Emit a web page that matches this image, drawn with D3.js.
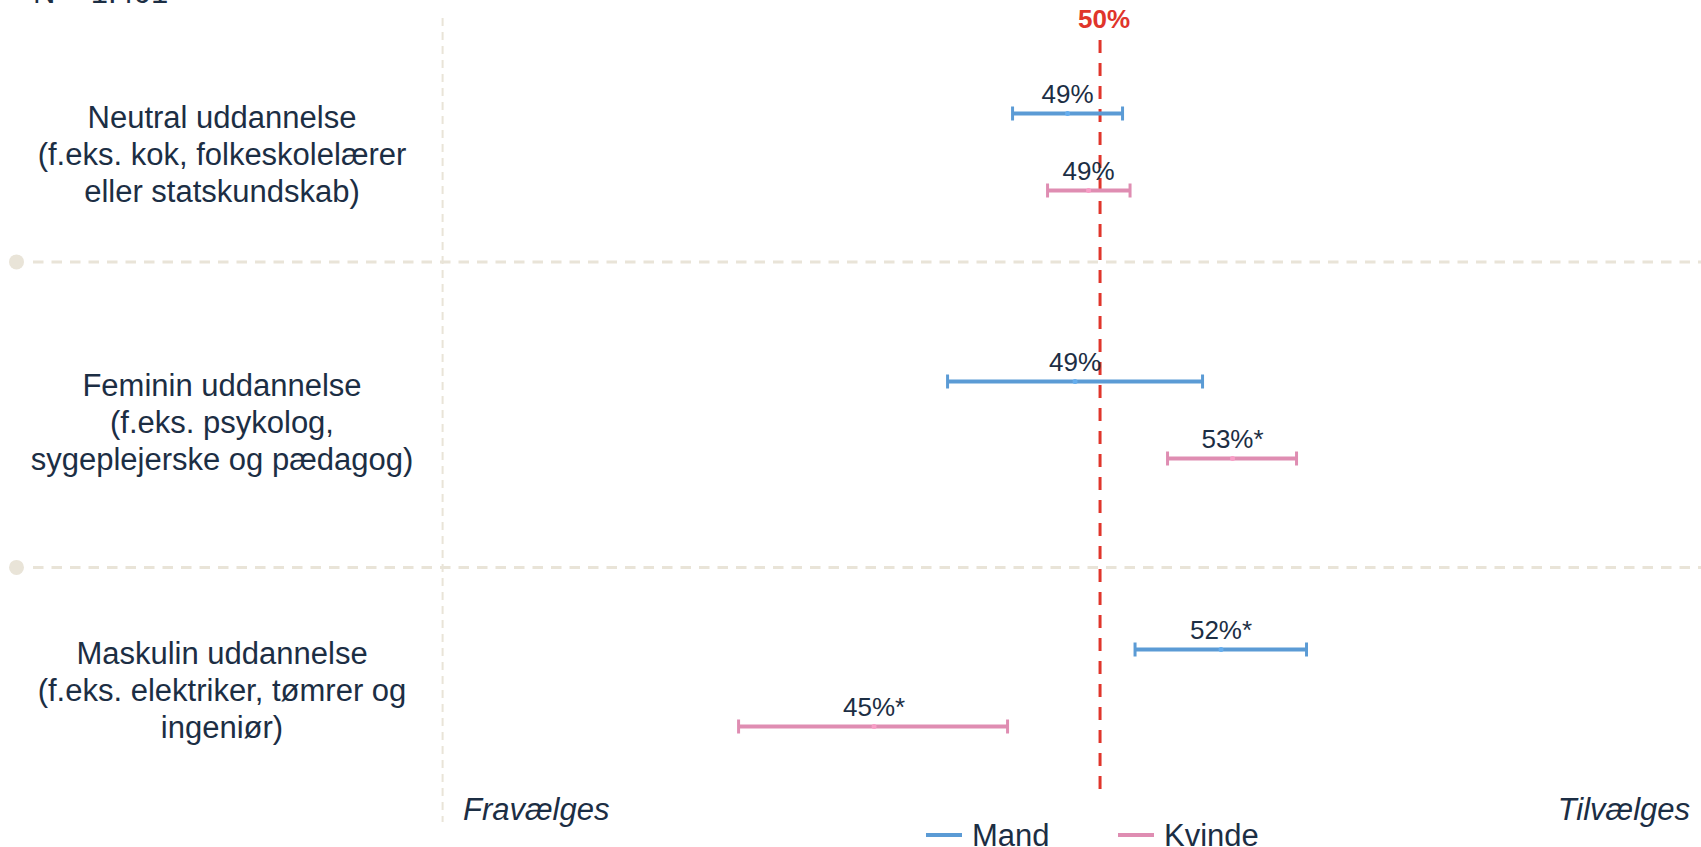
<!DOCTYPE html>
<html>
<head>
<meta charset="utf-8">
<script src="https://cdn.jsdelivr.net/npm/d3@7"></script>
<style>
body{margin:0;background:#fff}
text{font-family:"Liberation Sans",Arial,sans-serif;fill:#1c2e44}
</style>
</head>
<body>
<script>
const categories = [
  ["Neutral uddannelse", "(f.eks. kok, folkeskolelærer", "eller statskundskab)"],
  ["Feminin uddannelse", "(f.eks. psykolog,", "sygeplejerske og pædagog)"],
  ["Maskulin uddannelse", "(f.eks. elektriker, tømrer og", "ingeniør)"]
]
const groups = ["Mand", "Kvinde"]
const colors = {Mand: "#5b9bd5", Kvinde: "#df8db2"}

// estimates and confidence intervals in percent
const mandMean = [49.35, 49.5, 52.42]
const mandLow = [48.25, 46.95, 50.7]
const mandHigh = [50.45, 52.05, 54.13]
const kvindeMean = [49.77, 52.65, 45.48]
const kvindeLow = [48.95, 51.35, 42.77]
const kvindeHigh = [50.6, 53.93, 48.15]
const mandLabels = ["49%", "49%", "52%*"]
const kvindeLabels = ["49%", "53%*", "45%*"]

const separators = [0.41, 1.55]
const refValue = 50

const width = 1701, height = 847

const rows = []
categories.forEach((c, i) => {
  rows.push({cat: i, g: "Mand", mean: mandMean[i], lo: mandLow[i], hi: mandHigh[i], label: mandLabels[i]})
  rows.push({cat: i, g: "Kvinde", mean: kvindeMean[i], lo: kvindeLow[i], hi: kvindeHigh[i], label: kvindeLabels[i]})
})

const svg = d3.select("body")
    .append("svg")
    .attr("width", width)
    .attr("height", height)

const x = d3.scaleLinear().domain([36.85, 62.02]).range([442.6, 1701])
const y = d3.scaleLinear().domain([0, 2]).range([152, 688])
const offset = d3.scalePoint().domain(groups).range([-38.5, 38.5])

// grid
svg.append("line")
    .attr("x1", x.range()[0]).attr("x2", x.range()[0])
    .attr("y1", 18).attr("y2", 822)
    .attr("stroke", "#e9e4d8").attr("stroke-width", 2)
    .attr("stroke-dasharray", "8,6")

const sep = svg.selectAll(".sep").data(separators).join("g")
sep.append("line")
    .attr("x1", 33).attr("x2", width)
    .attr("y1", d => y(d)).attr("y2", d => y(d))
    .attr("stroke", "#e9e4d8").attr("stroke-width", 3)
    .attr("stroke-dasharray", "10.5,8")
sep.append("circle")
    .attr("cx", 16.5).attr("cy", d => y(d)).attr("r", 7.5)
    .attr("fill", "#e9e4d8")

// reference line
svg.append("line")
    .attr("x1", x(refValue)).attr("x2", x(refValue))
    .attr("y1", 40).attr("y2", 792)
    .attr("stroke", "#e0352b").attr("stroke-width", 3)
    .attr("stroke-dasharray", "13,10")
svg.append("text")
    .attr("x", x(refValue) + 4).attr("y", 28)
    .attr("text-anchor", "middle")
    .attr("font-size", 26).attr("font-weight", "bold")
    .style("fill", "#e0352b")
    .text(refValue + "%")

// error bars
const bars = svg.selectAll(".bar").data(rows).join("g")
    .attr("transform", d => `translate(0,${y(d.cat) + offset(d.g)})`)
bars.append("line")
    .attr("x1", d => x(d.lo)).attr("x2", d => x(d.hi))
    .attr("stroke", d => colors[d.g]).attr("stroke-width", 4)
bars.selectAll(".cap").data(d => [d.lo, d.hi].map(v => ({v, g: d.g}))).join("line")
    .attr("x1", d => x(d.v)).attr("x2", d => x(d.v))
    .attr("y1", -7).attr("y2", 7)
    .attr("stroke", d => colors[d.g]).attr("stroke-width", 3)
bars.append("circle")
    .attr("cx", d => x(d.mean)).attr("r", 2.5)
    .attr("fill", d => d3.color(colors[d.g]).brighter(0.3))
bars.append("text")
    .attr("x", d => x(d.mean))
    .attr("y", -11)
    .attr("text-anchor", "middle")
    .attr("font-size", 26)
    .text(d => d.label)

// category labels
const labs = svg.selectAll(".cat").data(categories).join("text")
    .attr("text-anchor", "middle")
    .attr("font-size", 31)
labs.selectAll("tspan").data((d, i) => d.map((t, j) => ({t, i, j}))).join("tspan")
    .attr("x", 222)
    .attr("y", d => y(d.i) + 12.5 + (d.j - 1) * 37)
    .text(d => d.t)

svg.append("text")
    .attr("x", 33).attr("y", 3)
    .attr("font-size", 31)
    .text("N = 1.401")

// axis ends
svg.append("text")
    .attr("x", 463).attr("y", 820)
    .attr("font-size", 31).attr("font-style", "italic")
    .text("Fravælges")
svg.append("text")
    .attr("x", 1690).attr("y", 820)
    .attr("text-anchor", "end")
    .attr("font-size", 31).attr("font-style", "italic")
    .text("Tilvælges")

// legend
const legX = {Mand: 926, Kvinde: 1118}
const leg = svg.selectAll(".leg").data(groups).join("g")
    .attr("transform", d => `translate(${legX[d]},835)`)
leg.append("line")
    .attr("x1", 0).attr("x2", 36)
    .attr("stroke", d => colors[d]).attr("stroke-width", 4)
leg.append("text")
    .attr("x", 46).attr("y", 11)
    .attr("font-size", 31)
    .text(d => d)
</script>
</body>
</html>
